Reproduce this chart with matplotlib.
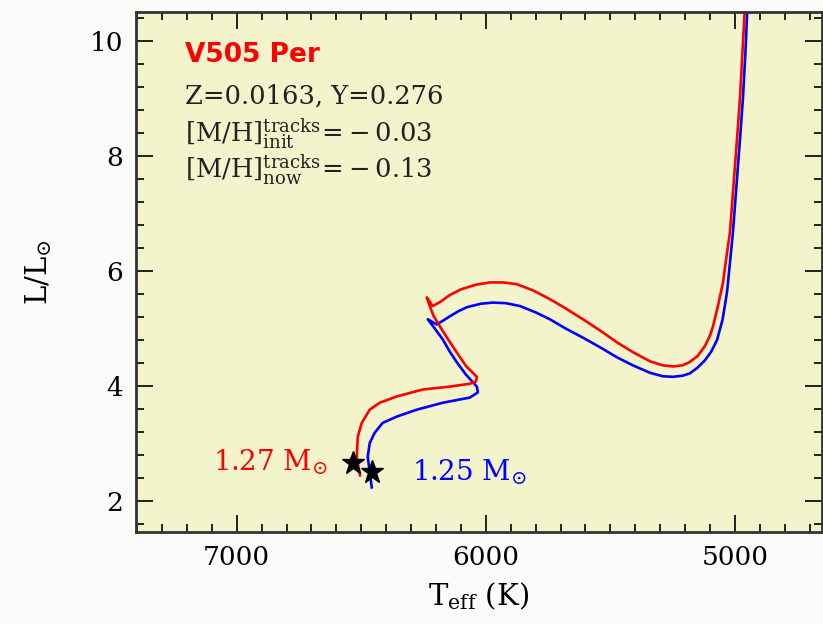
import matplotlib
matplotlib.use("Agg")
import matplotlib.pyplot as plt
import matplotlib.ticker as ticker

# ── Track data ────────────────────────────────────────────────────────────────
# 1.27 Msun track
teff_127 = [6505, 6518, 6516, 6514, 6498, 6466, 6426, 6357, 6253, 6145, 6064,
            6040, 6036, 6080, 6116, 6150, 6185, 6210, 6225, 6237,
            6213, 6180, 6145, 6100, 6040, 5984, 5930, 5876, 5810, 5743, 5680,
            5610, 5540, 5474, 5410, 5341, 5290, 5249, 5210, 5181, 5150, 5120,
            5100, 5088, 5068, 5048, 5034, 5020, 5010, 5000, 4990, 4980, 4970,
            4960]
lum_127 = [2.45, 2.75, 2.95, 3.12, 3.36, 3.59, 3.71, 3.82, 3.94, 3.99, 4.04,
           4.08, 4.16, 4.35, 4.58, 4.80, 5.04, 5.22, 5.39, 5.54,
           5.39, 5.47, 5.58, 5.68, 5.76, 5.80, 5.80, 5.77, 5.66, 5.51, 5.35,
           5.16, 4.96, 4.76, 4.59, 4.43, 4.36, 4.34, 4.36, 4.42, 4.52, 4.70,
           4.88, 5.04, 5.40, 5.80, 6.25, 6.68, 7.25, 7.83, 8.40, 9.00, 9.80,
           10.6]

# 1.25 Msun track
teff_125 = [6458, 6474, 6466, 6446, 6414, 6357, 6277, 6173, 6064, 6032, 6036,
            6080, 6116, 6145, 6173, 6205, 6233,
            6197, 6170, 6145, 6110, 6076, 6020, 5972, 5920, 5863, 5800, 5743,
            5680, 5610, 5540, 5474, 5410, 5341, 5290, 5249, 5210, 5181, 5150,
            5120, 5095, 5072, 5050, 5032, 5020, 5008, 4998, 4988, 4978, 4968,
            4958, 4950]
lum_125 = [2.24, 2.77, 3.01, 3.19, 3.36, 3.47, 3.59, 3.71, 3.80, 3.89, 3.99,
           4.20, 4.41, 4.60, 4.81, 5.00, 5.16,
           5.07, 5.14, 5.21, 5.30, 5.37, 5.43, 5.45, 5.44, 5.39, 5.28, 5.16,
           5.00, 4.84, 4.67, 4.50, 4.36, 4.23, 4.17, 4.16, 4.18, 4.22, 4.32,
           4.45, 4.60, 4.80, 5.15, 5.63, 6.15, 6.68, 7.25, 7.83, 8.40, 9.00,
           9.80, 10.6]

# observed components
star_teff = [6534, 6458]
star_lum = [2.66, 2.51]

x_ticks = [7000, 6000, 5000]
y_ticks = [2, 4, 6, 8, 10]

plt.rcParams["font.family"] = ["DejaVu Serif"]
plt.rcParams["mathtext.fontset"] = "dejavuserif"

fig = plt.figure(figsize=(8.23, 6.24), dpi=100, facecolor="#fbfbf9")
ax = fig.add_axes([0.165, 0.147, 0.834, 0.834])
ax.set_facecolor("#f3f3cc")

ax.plot(teff_125, lum_125, color="#0000ff", lw=1.9, solid_joinstyle="round")
ax.plot(teff_127, lum_127, color="#ff0000", lw=1.9, solid_joinstyle="round")
ax.plot(star_teff, star_lum, ls="none", marker="*", ms=17, color="black", zorder=5)

ax.set_xlim(7405, 4650)
ax.set_ylim(1.46, 10.5)

ax.xaxis.set_major_locator(ticker.FixedLocator(x_ticks))
ax.xaxis.set_minor_locator(ticker.MultipleLocator(100))
ax.yaxis.set_major_locator(ticker.FixedLocator(y_ticks))
ax.yaxis.set_minor_locator(ticker.MultipleLocator(0.4))
ax.tick_params(which="both", direction="in", top=True, right=True,
               color="#222222", width=1.4, labelsize=19, pad=9)
ax.tick_params(which="major", length=12)
ax.tick_params(which="minor", length=6)
for sp in ax.spines.values():
    sp.set_linewidth(2.0)
    sp.set_color("#333333")

ax.set_xlabel(r"T$_{\rm eff}$ (K)", fontsize=21, labelpad=8)
ax.set_ylabel(r"L/L$_{\odot}$", fontsize=21, labelpad=26)

# ── Annotations ───────────────────────────────────────────────────────────────
ax.text(0.071, 0.917, "V505 Per", transform=ax.transAxes, color="#ff0000",
        fontsize=19, fontweight="bold", family="DejaVu Sans", va="center")
ax.text(0.071, 0.838, "Z=0.0163, Y=0.276", transform=ax.transAxes,
        color="#222222", fontsize=18.5, va="center")
ax.text(0.071, 0.767, r"$[{\rm M/H}]^{\rm tracks}_{\rm init}\!=\!-0.03$",
        transform=ax.transAxes, color="#222222", fontsize=18.5, va="center")
ax.text(0.071, 0.696, r"$[{\rm M/H}]^{\rm tracks}_{\rm now}\!=\!-0.13$",
        transform=ax.transAxes, color="#222222", fontsize=18.5, va="center")

ax.text(0.113, 0.135, r"1.27 M$_{\odot}$", transform=ax.transAxes,
        color="#ff0000", fontsize=20, va="center")
ax.text(0.403, 0.115, r"1.25 M$_{\odot}$", transform=ax.transAxes,
        color="#0000ff", fontsize=20, va="center")

fig.savefig("out.png", dpi=100, facecolor=fig.get_facecolor())
